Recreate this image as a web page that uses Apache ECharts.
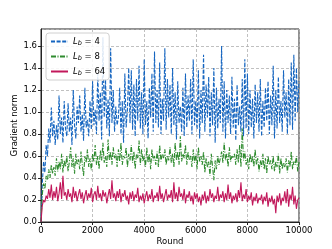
<!DOCTYPE html>
<html><head><meta charset="utf-8">
<script src="https://cdn.jsdelivr.net/npm/echarts@6/dist/echarts.min.js"></script>
<style>html,body{margin:0;padding:0;background:#fff}#c{width:332px;height:249px}</style>
</head><body><div id="c"></div>
<script>
const ROUND_STEP = 50;
const seriesNames = ['4', '8', '64'];
const blue = [0.00,0.35,0.55,0.45,0.70,0.60,0.85,0.72,1.04,0.78,
0.92,0.70,0.88,0.75,1.15,0.80,0.95,0.72,1.10,0.85,
0.78,1.08,0.82,0.95,0.70,1.20,0.88,0.76,1.05,0.90,
1.15,0.82,0.98,0.74,1.22,0.86,0.93,0.78,1.10,0.84,
1.28,0.88,1.02,0.80,1.35,0.92,1.18,0.75,1.68,0.95,
1.30,0.85,1.12,0.78,1.58,0.90,1.20,0.82,1.05,0.88,
0.95,1.22,0.80,1.10,0.72,1.35,0.86,1.02,1.40,0.90,
1.38,0.84,1.25,0.78,1.30,0.92,1.42,0.85,1.18,0.80,
1.48,0.88,1.10,0.76,1.22,0.95,1.35,0.82,1.55,0.90,
1.20,0.86,1.45,0.80,1.12,0.92,1.58,0.84,1.30,0.95,
1.25,0.80,1.40,0.88,1.18,0.75,1.28,0.90,1.05,0.82,
1.22,0.78,1.35,0.86,1.15,0.92,1.30,0.80,1.48,0.88,
1.10,0.84,1.38,0.76,1.20,0.90,1.52,0.82,1.25,0.95,
1.32,0.78,1.18,0.88,1.40,0.72,1.22,0.85,1.12,0.90,
1.60,0.82,1.28,0.76,1.20,0.90,1.15,0.80,1.32,0.86,
1.12,0.74,1.25,0.88,1.05,0.82,1.30,0.78,1.48,0.85,
1.35,0.80,1.20,0.86,1.12,0.76,1.25,0.90,1.18,0.82,
1.30,0.78,1.10,0.86,1.22,0.92,1.28,0.80,1.15,0.88,
1.42,0.76,1.20,0.85,1.32,0.90,1.10,0.82,1.38,0.95,
1.18,0.80,1.30,0.88,1.45,0.84,1.52,0.92,1.40,1.00,
1.28];
const green = [0.00,0.25,0.35,0.30,0.42,0.38,0.48,0.40,0.52,0.44,
0.50,0.42,0.58,0.46,0.55,0.48,0.62,0.45,0.56,0.50,
0.60,0.46,0.55,0.68,0.50,0.58,0.44,0.62,0.52,0.57,
0.48,0.64,0.52,0.42,0.60,0.54,0.66,0.50,0.58,0.47,
0.62,0.55,0.70,0.52,0.60,0.48,0.65,0.56,0.72,0.54,
0.60,0.50,0.75,0.56,0.64,0.52,0.68,0.58,0.62,0.50,
0.66,0.55,0.72,0.52,0.60,0.58,0.68,0.50,0.62,0.56,
0.70,0.54,0.64,0.48,0.62,0.58,0.74,0.52,0.66,0.55,
0.60,0.50,0.68,0.54,0.62,0.48,0.66,0.56,0.60,0.52,
0.64,0.50,0.70,0.55,0.62,0.58,0.66,0.52,0.60,0.56,
0.68,0.54,0.62,0.50,0.72,0.56,0.64,0.52,0.78,0.55,
0.62,0.58,0.70,0.52,0.64,0.56,0.60,0.50,0.66,0.54,
0.62,0.48,0.68,0.55,0.60,0.52,0.64,0.45,0.58,0.50,
0.55,0.42,0.62,0.50,0.38,0.56,0.48,0.60,0.52,0.58,
0.64,0.54,0.72,0.56,0.62,0.50,0.68,0.55,0.60,0.58,
0.62,0.52,0.66,0.54,0.70,0.50,0.85,0.56,0.64,0.52,
0.58,0.48,0.62,0.54,0.60,0.50,0.66,0.52,0.58,0.46,
0.56,0.50,0.62,0.48,0.58,0.44,0.60,0.52,0.56,0.48,
0.60,0.46,0.55,0.50,0.62,0.44,0.58,0.48,0.54,0.50,
0.58,0.45,0.56,0.50,0.64,0.48,0.55,0.52,0.60,0.46,
0.55];
const red = [0.00,0.15,0.20,0.18,0.24,0.21,0.30,0.22,0.34,0.20,
0.28,0.22,0.32,0.19,0.26,0.36,0.21,0.42,0.24,0.27,
0.20,0.30,0.23,0.26,0.18,0.32,0.22,0.28,0.19,0.25,
0.30,0.21,0.27,0.17,0.24,0.29,0.20,0.26,0.22,0.31,
0.18,0.25,0.28,0.20,0.33,0.22,0.26,0.19,0.29,0.23,
0.27,0.17,0.24,0.30,0.21,0.38,0.22,0.26,0.19,0.28,
0.22,0.30,0.18,0.26,0.23,0.29,0.20,0.24,0.16,0.27,
0.21,0.28,0.19,0.25,0.22,0.31,0.18,0.24,0.20,0.26,
0.17,0.23,0.28,0.19,0.25,0.21,0.30,0.18,0.24,0.22,
0.27,0.19,0.33,0.21,0.26,0.18,0.24,0.30,0.20,0.25,
0.22,0.29,0.18,0.36,0.21,0.27,0.19,0.32,0.23,0.26,
0.20,0.30,0.17,0.25,0.22,0.28,0.19,0.24,0.16,0.27,
0.21,0.26,0.18,0.23,0.15,0.25,0.20,0.28,0.17,0.24,
0.19,0.30,0.22,0.26,0.18,0.24,0.21,0.32,0.19,0.25,
0.22,0.28,0.18,0.26,0.20,0.34,0.21,0.27,0.17,0.24,
0.20,0.26,0.18,0.29,0.22,0.36,0.19,0.25,0.21,0.30,
0.18,0.24,0.20,0.27,0.15,0.23,0.19,0.26,0.17,0.22,
0.20,0.25,0.16,0.23,0.19,0.27,0.14,0.22,0.18,0.24,
0.16,0.21,0.08,0.24,0.18,0.26,0.15,0.22,0.19,0.28,
0.17,0.30,0.14,0.25,0.20,0.32,0.16,0.24,0.12,0.20,
0.22];
const xTicks = [0, 2000, 4000, 6000, 8000, 10000];
const yTicks = [0, 0.2, 0.4, 0.6, 0.8, 1.0, 1.2, 1.4, 1.6];

const pairs = arr => arr.map((v, i) => [i * ROUND_STEP, v]);
const font = 'DejaVu Sans';
const fs = 8.5;
const chart = echarts.init(document.getElementById('c'), null, {renderer: 'canvas'});
const gridLine = {show: true, lineStyle: {color: '#b0b0b0', type: [3, 2], width: 0.8}};
const rich = {
  i: {fontStyle: 'italic', fontFamily: font, fontSize: fs, color: '#000'},
  s: {fontStyle: 'italic', fontFamily: font, fontSize: 6.5, color: '#000', verticalAlign: 'bottom', padding: [4, 0, 0, 0]},
  t: {fontFamily: font, fontSize: fs, color: '#000'}
};
chart.setOption({
  animation: false,
  grid: {left: 41, right: 33, top: 29, bottom: 27, containLabel: false, outerBoundsMode: 'none',
    show: true, borderColor: '#222', borderWidth: 1, backgroundColor: 'transparent'},
  legend: {
    left: 46, top: 33, orient: 'vertical', itemWidth: 17, itemHeight: 8, itemGap: 5,
    padding: [4, 4, 3, 4], backgroundColor: 'rgba(255,255,255,0.85)', borderColor: '#d0d0d0', borderWidth: 1, borderRadius: 3,
    itemStyle: {opacity: 0},
    formatter: n => '{i|L}{s|b}{t| = ' + n + '}',
    textStyle: {rich: rich}
  },
  xAxis: {
    type: 'value', min: 0, max: 10000, interval: 2000,
    name: 'Round', nameLocation: 'middle', nameGap: 15, nameMoveOverlap: false,
    nameTextStyle: {fontFamily: font, fontSize: fs, color: '#000'},
    axisLine: {show: true, lineStyle: {color: '#222'}},
    axisTick: {show: true, length: 3, lineStyle: {color: '#222'}},
    axisLabel: {fontFamily: font, fontSize: fs, color: '#000', margin: 4,
      formatter: v => xTicks.includes(v) ? String(v) : ''},
    splitLine: gridLine
  },
  yAxis: {
    type: 'value', min: 0, max: 1.755, interval: 0.2,
    name: 'Gradient norm', nameLocation: 'middle', nameGap: 22, nameMoveOverlap: false,
    nameTextStyle: {fontFamily: font, fontSize: fs, color: '#000'},
    axisLine: {show: true, lineStyle: {color: '#222'}},
    axisTick: {show: true, length: 3, lineStyle: {color: '#222'}},
    axisLabel: {fontFamily: font, fontSize: fs, color: '#000', margin: 4, showMaxLabel: false,
      formatter: v => { const t = yTicks.find(y => Math.abs(y - v) < 1e-6); return t === undefined ? '' : t.toFixed(1); }},
    splitLine: gridLine
  },
  series: [
    {name: seriesNames[0], type: 'line', data: pairs(blue), showSymbol: false, symbol: 'none',
      lineStyle: {color: '#1565c0', width: 1.1, type: [4, 1.6]}, itemStyle: {color: '#1565c0'}, z: 2},
    {name: seriesNames[1], type: 'line', data: pairs(green), showSymbol: false, symbol: 'none',
      lineStyle: {color: '#2e8b2e', width: 1.1, type: [5, 1.5, 1, 1.5]}, itemStyle: {color: '#2e8b2e'}, z: 3},
    {name: seriesNames[2], type: 'line', data: pairs(red), showSymbol: false, symbol: 'none',
      lineStyle: {color: '#c2185b', width: 1.1}, itemStyle: {color: '#c2185b'}, z: 4}
  ]
});
</script></body></html>
